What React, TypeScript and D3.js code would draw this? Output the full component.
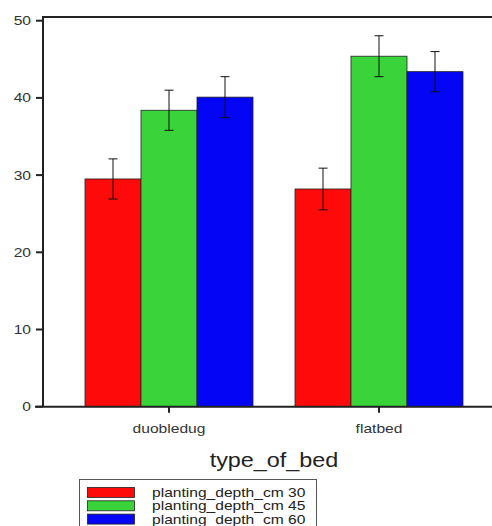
import React from "react";
import * as d3 from "d3";

const categories = ["duobledug", "flatbed"];
const seriesNames = ["planting_depth_cm 30", "planting_depth_cm 45", "planting_depth_cm 60"];
const seriesColors = ["#ff0a0a", "#3ad43a", "#0505f5"];
// means per series, one value per category
const means = [
  [29.5, 28.2],
  [38.4, 45.4],
  [40.1, 43.4],
];
const errors = [
  [2.6, 2.7],
  [2.6, 2.65],
  [2.65, 2.6],
];
const yTicks = [0, 10, 20, 30, 40, 50];
const xTitle = "type_of_bed";

const SX = 1.2; // the source text is stretched horizontally
const FONT = "'Liberation Sans', Arial, sans-serif";

function App() {
  const width = 492,
    height = 526;
  const left = 43,
    right = 505,
    top = 17,
    bottom = 406.7;

  const x = d3.scaleBand().domain(categories).range([left, right]).padding(0.2);
  const xSub = d3
    .scaleBand()
    .domain(seriesNames)
    .range([0, x.bandwidth()]);
  const y = d3.scaleLinear().domain([0, 50]).range([bottom, 20.7]);

  const bars = [];
  const errs = [];
  seriesNames.forEach((s, si) => {
    categories.forEach((c, ci) => {
      const bx = x(c) + xSub(s);
      const v = means[si][ci];
      const e = errors[si][ci];
      bars.push(
        <rect
          key={s + c}
          x={bx}
          y={y(v)}
          width={xSub.bandwidth()}
          height={y(0) - y(v)}
          fill={seriesColors[si]}
          stroke="#222"
          strokeWidth={0.8}
        />
      );
      const cx = bx + xSub.bandwidth() / 2;
      errs.push(
        <g key={"e" + s + c} stroke="#111" strokeWidth={1}>
          <line x1={cx} x2={cx} y1={y(v + e)} y2={y(v - e)} />
          <line x1={cx - 4.5} x2={cx + 4.5} y1={y(v + e)} y2={y(v + e)} />
          <line x1={cx - 4.5} x2={cx + 4.5} y1={y(v - e)} y2={y(v - e)} />
        </g>
      );
    });
  });

  return (
    <svg
      width={width}
      height={height}
      style={{ position: "absolute", left: 0, top: 0, background: "#fff" }}
      fontFamily={FONT}
    >
      {bars}
      {errs}
      {/* frame / axes */}
      <line x1={left} x2={width} y1={top} y2={top} stroke="#222" strokeWidth={2} />
      <line x1={left} x2={left} y1={top - 1} y2={bottom} stroke="#222" strokeWidth={2} />
      <line x1={left - 8} x2={width} y1={bottom} y2={bottom} stroke="#222" strokeWidth={2} />
      {yTicks.map((t) => (
        <g key={t}>
          <line x1={left - 7} x2={left} y1={y(t)} y2={y(t)} stroke="#222" strokeWidth={2} />
          <text
            transform={`translate(${31},${y(t) + 4.5}) scale(${SX},1)`}
            textAnchor="end"
            fontSize={13}
            fill="#333"
          >
            {t}
          </text>
        </g>
      ))}
      {categories.map((c) => {
        const cx = x(c) + x.bandwidth() / 2;
        return (
          <g key={c}>
            <line x1={cx} x2={cx} y1={bottom} y2={bottom + 6} stroke="#222" strokeWidth={2} />
            <text
              transform={`translate(${cx},${bottom + 26}) scale(${SX},1)`}
              textAnchor="middle"
              fontSize={13}
              fill="#333"
            >
              {c}
            </text>
          </g>
        );
      })}
      <text
        transform={`translate(${274},${467}) scale(${SX},1)`}
        textAnchor="middle"
        fontSize={19.5}
        fill="#222"
      >
        {xTitle}
      </text>
      {/* legend */}
      <rect x={79.5} y={479.5} width={237} height={60} fill="#fff" stroke="#555" strokeWidth={1} />
      {seriesNames.map((s, i) => (
        <g key={s}>
          <rect
            x={87.5}
            y={487.5 + i * 13.3}
            width={47}
            height={10}
            fill={seriesColors[i]}
            stroke="#222"
            strokeWidth={0.8}
          />
          <text
            transform={`translate(${152},${497 + i * 13.3}) scale(${SX},1)`}
            fontSize={13}
            fill="#222"
          >
            {s}
          </text>
        </g>
      ))}
    </svg>
  );
}

export default App;
